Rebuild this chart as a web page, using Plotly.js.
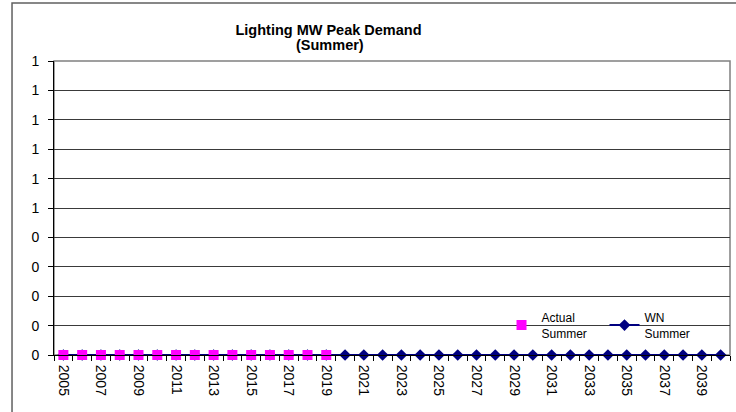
<!DOCTYPE html>
<html>
<head>
<meta charset="utf-8">
<script src="https://cdn.plot.ly/plotly-3.0.1.min.js"></script>
<style>
  html, body { margin: 0; padding: 0; background: #fff; }
  #chart { width: 736px; height: 412px; }
</style>
</head>
<body>
<div id="chart"></div>
<script>
// --- data ---
const years = [];
for (let y = 2005; y <= 2040; y++) years.push(y);
const actualYears = years.slice(0, 15);           // 2005-2019
const actualSummer = [0, 0, 0, 0, 0, 0, 0, 0, 0, 0, 0, 0, 0, 0, 0];
const wnSummer = [
    0, 0, 0, 0, 0, 0, 0, 0, 0, 0, 0, 0,
    0, 0, 0, 0, 0, 0, 0, 0, 0, 0, 0, 0,
    0, 0, 0, 0, 0, 0, 0, 0, 0, 0, 0, 0
];
const yTickVals = [0, 0.1, 0.2, 0.3, 0.4, 0.5, 0.6, 0.7, 0.8, 0.9, 1.0];
const yTickText = ['0', '0', '0', '0', '0', '1', '1', '1', '1', '1', '1'];
const xTickVals = [2005, 2007, 2009, 2011, 2013, 2015, 2017, 2019, 2021, 2023,
                   2025, 2027, 2029, 2031, 2033, 2035, 2037, 2039];

const font = 'Liberation Sans, Arial, sans-serif';

const traces = [
    {
        x: years,
        y: wnSummer,
        name: 'WN<br>Summer',
        mode: 'lines+markers',
        cliponaxis: false,
        line: { color: '#000080', width: 2 },
        marker: { symbol: 'diamond', size: 9, color: '#000080' }
    },
    {
        x: actualYears,
        y: actualSummer,
        name: 'Actual<br>Summer',
        mode: 'markers',
        cliponaxis: false,
        marker: { symbol: 'square', size: 10, color: '#FF00FF' }
    }
];

const layout = {
    width: 736,
    height: 412,
    margin: { l: 54, r: 6, t: 61, b: 57 },
    paper_bgcolor: '#fff',
    plot_bgcolor: '#fff',
    font: { family: font, size: 14, color: '#000' },
    title: {
        text: '<b>Lighting MW Peak Demand</b>',
        font: { family: font, size: 14.5, color: '#000' },
        x: 328.5 / 736,
        xref: 'container',
        xanchor: 'center',
        y: 1 - 30 / 412,
        yref: 'container',
        yanchor: 'middle'
    },
    annotations: [{
        text: '<b>(Summer)</b>',
        xref: 'paper', yref: 'paper',
        x: (330 - 54) / 676, y: (355 - 44.5) / 294,
        xanchor: 'center', yanchor: 'middle',
        showarrow: false,
        font: { family: font, size: 14.5, color: '#000' }
    }],
    xaxis: {
        type: 'linear',
        range: [2004.5, 2040.5],
        tickvals: xTickVals,
        ticktext: xTickVals.map(String),
        tickangle: 90,
        ticks: '',
        ticklabelstandoff: 6,
        showgrid: false,
        zeroline: false,
        showline: true,
        linecolor: '#000',
        linewidth: 1,
        tickfont: { family: font, size: 14, color: '#000' },
        minor: { ticks: 'outside', tick0: 2004.5, dtick: 1, ticklen: 5, tickcolor: '#000', showgrid: false }
    },
    yaxis: {
        range: [0, 1],
        tickvals: yTickVals,
        ticktext: yTickText,
        ticks: 'outside',
        ticklen: 5,
        tickcolor: '#000',
        ticklabelstandoff: 6,
        showgrid: true,
        gridcolor: '#3a3a3a',
        gridwidth: 1,
        zeroline: false,
        showline: true,
        linecolor: '#000',
        linewidth: 1,
        tickfont: { family: font, size: 14, color: '#000' }
    },
    showlegend: true,
    legend: {
        orientation: 'h',
        x: 0.662,
        xanchor: 'left',
        y: 0.177,
        yanchor: 'top',
        bgcolor: 'rgba(0,0,0,0)',
        font: { family: font, size: 12, color: '#000' },
        traceorder: 'reversed',
        entrywidth: 58
    },
    shapes: [
        {   // plot area border
            type: 'rect', xref: 'paper', yref: 'paper',
            x0: 0, x1: 1, y0: 0, y1: 1,
            line: { color: '#808080', width: 1.5 },
            layer: 'below'
        },
        {   // outer chart frame
            type: 'rect', xref: 'paper', yref: 'paper',
            x0: -0.0621, x1: 1.1, y0: -0.3, y1: 1.197,
            line: { color: '#606060', width: 1.5 }
        }
    ]
};

Plotly.newPlot('chart', traces, layout, { displayModeBar: false, staticPlot: true });
</script>
</body>
</html>
